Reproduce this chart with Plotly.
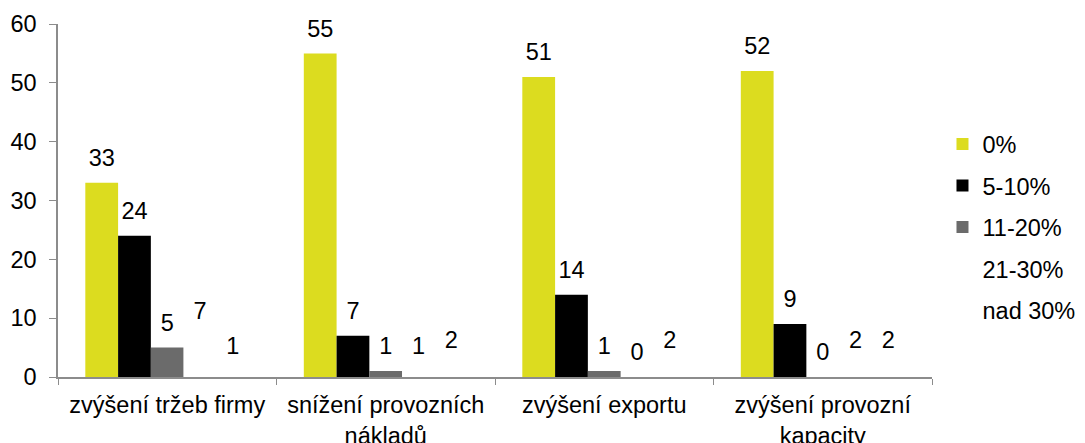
import plotly.graph_objects as go

categories = [
    "zvýšení tržeb firmy",
    "snížení provozních<br>nákladů",
    "zvýšení exportu",
    "zvýšení provozní<br>kapacity",
]
series_names = ["0%", "5-10%", "11-20%", "21-30%", "nad 30%"]
values_0 = [33, 55, 51, 52]
values_5_10 = [24, 7, 14, 9]
values_11_20 = [5, 1, 1, 0]
values_21_30 = [7, 1, 0, 2]
values_nad_30 = [1, 2, 2, 2]
series_values = [values_0, values_5_10, values_11_20, values_21_30, values_nad_30]
colors = ["#dcdc1f", "#000000", "#6b6b6b", "#ffffff", "#ffffff"]

FONT = "Liberation Sans, Arial, sans-serif"
FS = 23.5

fig = go.Figure()

for i, (name, vals, color) in enumerate(zip(series_names, series_values, colors)):
    fig.add_trace(
        go.Bar(
            x=categories, y=vals, name=name,
            marker=dict(color=color, line=dict(width=0)),
            offsetgroup=str(i), legendgroup=str(i),
        )
    )

# value labels, grouped like the bars (invisible marker pushes text up)
for i, vals in enumerate(series_values):
    fig.add_trace(
        go.Scatter(
            x=categories, y=vals, mode="markers+text",
            text=[str(v) for v in vals], textposition="top center",
            textfont=dict(size=FS, color="#000", family=FONT),
            marker=dict(size=16, opacity=0),
            offsetgroup=str(i), showlegend=False, hoverinfo="skip",
            cliponaxis=False,
        )
    )

# page body has an 8px margin, so margins are shifted by 8px
fig.update_layout(
    width=1085, height=443,
    barmode="group", scattermode="group",
    bargap=0.25, scattergap=0.25, bargroupgap=0,
    plot_bgcolor="white", paper_bgcolor="white",
    font=dict(family=FONT, size=FS, color="#000"),
    margin=dict(l=50, r=161, t=16, b=74, autoexpand=False),
    showlegend=True,
    legend=dict(
        x=1.012, xanchor="left", y=0.722, yanchor="top",
        font=dict(size=FS), traceorder="grouped", tracegroupgap=8,
        itemwidth=30,
    ),
    xaxis=dict(
        showline=True, linecolor="#8c8c8c", linewidth=1.5,
        ticks="outside", tickson="boundaries", ticklen=6, tickcolor="#8c8c8c",
        tickfont=dict(size=FS), showgrid=False, automargin=False,
        ticklabelstandoff=6,
    ),
    yaxis=dict(
        range=[0, 60], dtick=10, showline=True, linecolor="#8c8c8c", linewidth=1.5,
        ticks="outside", ticklen=7, tickcolor="#8c8c8c",
        tickfont=dict(size=FS), showgrid=False, zeroline=False, automargin=False,
        ticklabelstandoff=8,
    ),
)

fig.write_html("out.html")
